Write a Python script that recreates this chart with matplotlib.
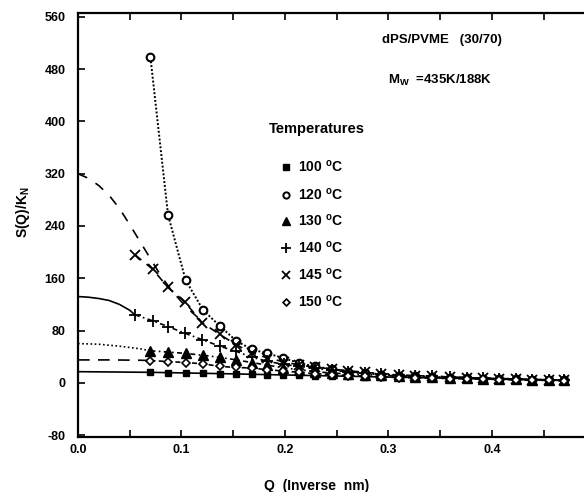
import matplotlib
matplotlib.use('Agg')
import matplotlib.pyplot as plt
from matplotlib.ticker import MultipleLocator, FormatStrFormatter

plt.rcParams['font.family'] = 'Liberation Sans'
plt.rcParams['font.weight'] = 'bold'
plt.rcParams['axes.unicode_minus'] = False
plt.rcParams['mathtext.fontset'] = 'custom'
plt.rcParams['mathtext.rm'] = 'Liberation Sans:bold'
plt.rcParams['mathtext.bf'] = 'Liberation Sans:bold'

# Q grids (inverse nm)
q_main = [0.070, 0.087, 0.104, 0.121, 0.137, 0.153, 0.168, 0.183, 0.198, 0.214,
          0.229, 0.245, 0.261, 0.277, 0.293, 0.310, 0.326, 0.342, 0.359, 0.376,
          0.391, 0.407, 0.423, 0.439, 0.455, 0.470]
q_early = [0.055, 0.072, 0.087, 0.103, 0.120, 0.137, 0.153, 0.168, 0.183, 0.199,
           0.214, 0.229, 0.245, 0.261, 0.277, 0.293, 0.310, 0.326, 0.342, 0.359,
           0.376, 0.391, 0.407, 0.423, 0.439, 0.455, 0.470]

# measured S(Q)/K_N
s100 = [16, 15.5, 15, 14.5, 14, 13.5, 13, 12.5, 12, 11.5, 11, 10.5, 10, 9.5, 9,
        8.5, 8, 7.5, 7, 6.5, 6, 5.5, 5, 4.5, 4, 3.5]
s120 = [498, 257, 157, 111, 87, 64, 51, 45, 38, 30, 25, 21, 17, 14.5, 12.5, 11,
        10, 9, 8, 7, 6.5, 6, 5.5, 5, 4.5, 4]
s130 = [49, 47, 45, 42, 39, 35, 31, 27, 23, 20, 17, 15, 13.5, 12.5, 11.5, 10.5,
        9.5, 8.5, 8, 7, 6.5, 6, 5.5, 5, 4.5, 4]
s140 = [104, 95, 86, 76, 66, 56, 48, 39, 33, 28, 25, 22, 19, 17, 15, 13.5, 12,
        11, 10, 9, 8, 7, 6.5, 6, 5, 4.5, 4]
s145 = [196, 174, 146, 124, 92, 74, 58, 46, 38, 32, 27, 24, 21, 18.5, 16, 14,
        12.5, 11, 10, 9, 8, 7, 6.5, 6, 5, 4.5, 4]
s150 = [34, 32.5, 31, 29, 25, 23.5, 22.5, 20, 18, 16, 14, 12.5, 11, 10, 9, 8,
        7.5, 7, 6.5, 6, 5.5, 5, 4.5, 4, 3.5, 3]

# fitted curves extrapolated to Q = 0
fit100_q = [0.0, 0.035, 0.070]
fit100_s = [17, 16.5, 16]
fit130_q = [0.0, 0.02, 0.04, 0.06, 0.070]
fit130_s = [60, 59, 56, 52, 49]
fit140_q = [0.0, 0.01, 0.02, 0.03, 0.04, 0.05, 0.055]
fit140_s = [132, 131, 129, 126, 120, 111, 104]
fit145_q = [0.0, 0.01, 0.02, 0.03, 0.04, 0.05, 0.06, 0.07, 0.08, 0.09, 0.10, 0.11, 0.12]
fit145_s = [320, 313, 302, 287, 267, 242, 216, 190, 164, 142, 124, 108, 94]
fit150_q = [0.0, 0.03, 0.060, 0.072]
fit150_s = [35, 35, 34.5, 34]

labels = ['100', '120', '130', '140', '145', '150']

fig = plt.figure(figsize=(5.84, 4.92), dpi=100)
ax = fig.add_axes([78/584, 55/492, 510/584, 424/492])

lw = 1.2
ax.plot(fit100_q, fit100_s, color='black', lw=lw, ls='-')
ax.plot(fit130_q, fit130_s, color='black', lw=lw, ls=(0, (1, 1.5)))
ax.plot(fit140_q, fit140_s, color='black', lw=lw, ls='-')
ax.plot(fit145_q, fit145_s, color='black', lw=lw, ls=(0, (6, 6)))
ax.plot(fit150_q, fit150_s, color='black', lw=lw, ls=(0, (7, 5)))

ax.plot(q_main, s100, color='black', lw=lw, ls='-', marker='s', ms=4.5)
ax.plot(q_main, s120, color='black', lw=1.4, ls=(0, (1, 1)), marker='o', ms=5.5,
        mfc='white', mew=1.5)
ax.plot(q_main, s130, color='black', lw=lw, ls=(0, (3, 2, 1, 2)), marker='^', ms=7)
ax.plot(q_early, s140, color='black', lw=lw, ls=(0, (3, 2, 1, 2)), marker='+', ms=8, mew=1.3)
ax.plot(q_early, s145, color='black', lw=lw, ls=(0, (5, 4)), marker='x', ms=7, mew=1.3)
ax.plot(q_main, s150, color='black', lw=lw, ls=(0, (3, 2)), marker='D', ms=3.8,
        mfc='white', mew=1.2)

ax.set_xlim(0, 0.4928)
ax.set_ylim(-83, 566)
ax.xaxis.set_major_locator(MultipleLocator(0.1))
ax.xaxis.set_minor_locator(MultipleLocator(0.05))
ax.xaxis.set_major_formatter(FormatStrFormatter('%.1f'))
ax.yaxis.set_major_locator(MultipleLocator(80))
ax.tick_params(axis='both', which='both', direction='in', length=5, width=1.2,
               top=True, right=False, labelsize=9)
ax.tick_params(axis='x', pad=5)
ax.tick_params(axis='y', pad=9)
for lab in ax.get_xticklabels() + ax.get_yticklabels():
    lab.set_fontweight('bold')
for side in ['left', 'bottom', 'top']:
    ax.spines[side].set_linewidth(1.6)
ax.spines['right'].set_visible(False)

ax.set_xlabel('Q  (Inverse  nm)', fontsize=10, fontweight='bold')
ax.xaxis.set_label_coords(0.468, -0.1)
ax.set_ylabel('S(Q)/K$_\\mathbf{N}$', fontsize=10, fontweight='bold')
ax.yaxis.set_label_coords(-0.09, 0.53)

ax.text(0.597, 0.936, 'dPS/PVME   (30/70)', transform=ax.transAxes,
        fontsize=9.5, fontweight='bold', va='center')
ax.text(0.607, 0.842, 'M$_\\mathbf{W}$  =435K/188K', transform=ax.transAxes,
        fontsize=9.5, fontweight='bold', va='center')
ax.text(0.375, 0.726, 'Temperatures', transform=ax.transAxes,
        fontsize=10.5, fontweight='bold', va='center')

# hand-placed key
rows_y = [167, 195, 221, 248, 275, 302]
styles = [dict(marker='s', ms=4, mfc='black'),
          dict(marker='o', ms=4.5, mfc='white', mew=1.4),
          dict(marker='^', ms=6, mfc='black'),
          dict(marker='+', ms=7, mew=1.3),
          dict(marker='x', ms=6, mew=1.3),
          dict(marker='D', ms=3.5, mfc='white', mew=1.2)]
for lab, py, st in zip(labels, rows_y, styles):
    yy = (437 - py) / 424
    ax.plot([(284 - 78) / 506], [yy], transform=ax.transAxes, color='black',
            ls='none', clip_on=False, **st)
    ax.text((296 - 78) / 506, yy, lab + ' $^\\mathbf{o}$C', transform=ax.transAxes,
            fontsize=10, fontweight='bold', va='center')

fig.savefig('out.png', dpi=100)
